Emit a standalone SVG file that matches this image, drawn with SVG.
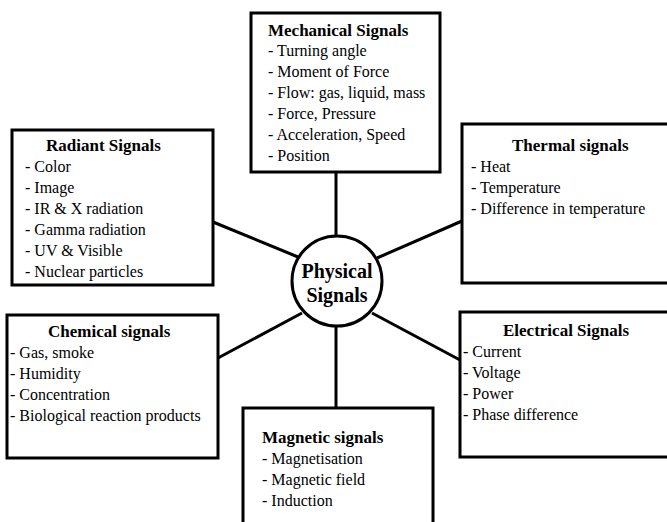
<svg xmlns="http://www.w3.org/2000/svg" width="667" height="522" viewBox="0 0 667 522">
<style>
.box{fill:#fff;stroke:#000;stroke-width:3}
.con{stroke:#000;stroke-width:3;fill:none}
text{font-family:'Liberation Serif','Times New Roman',serif;fill:#000;font-size:16px}
.t{font-weight:bold;font-size:17px}
.c{font-weight:bold;font-size:20px;text-anchor:middle}
</style>
<rect width="667" height="522" fill="#fff"/>
<g id="connectors">
<line class="con" x1="336" y1="172" x2="336" y2="236"/>
<line class="con" x1="213" y1="222" x2="298" y2="257"/>
<line class="con" x1="462" y1="221" x2="377" y2="258"/>
<line class="con" x1="218" y1="358" x2="302" y2="313"/>
<line class="con" x1="460" y1="360" x2="372" y2="313"/>
<line class="con" x1="336" y1="326" x2="336" y2="408"/>
</g>
<g id="mechanical">
<rect class="box" x="251" y="13" width="189" height="159"/>
<text class="t" x="268" y="36">Mechanical Signals</text>
<text x="268" y="56">- Turning angle</text>
<text x="268" y="77">- Moment of Force</text>
<text x="268" y="98">- Flow: gas, liquid, mass</text>
<text x="268" y="119">- Force, Pressure</text>
<text x="268" y="140">- Acceleration, Speed</text>
<text x="268" y="161">- Position</text>
</g>
<g id="radiant">
<rect class="box" x="12" y="130" width="201" height="155"/>
<text class="t" x="46" y="151">Radiant Signals</text>
<text x="25" y="172">- Color</text>
<text x="25" y="193">- Image</text>
<text x="25" y="214">- IR &amp; X radiation</text>
<text x="25" y="235">- Gamma radiation</text>
<text x="25" y="256">- UV &amp; Visible</text>
<text x="25" y="277">- Nuclear particles</text>
</g>
<g id="thermal">
<rect class="box" x="462" y="124" width="220" height="159"/>
<text class="t" x="512" y="151">Thermal signals</text>
<text x="471" y="172">- Heat</text>
<text x="471" y="193">- Temperature</text>
<text x="471" y="214">- Difference in temperature</text>
</g>
<g id="chemical">
<rect class="box" x="7" y="315" width="211" height="143"/>
<text class="t" x="48" y="337">Chemical signals</text>
<text x="10" y="358">- Gas, smoke</text>
<text x="10" y="379">- Humidity</text>
<text x="10" y="400">- Concentration</text>
<text x="10" y="421">- Biological reaction products</text>
</g>
<g id="electrical">
<rect class="box" x="460" y="312" width="222" height="145"/>
<text class="t" x="503" y="336">Electrical Signals</text>
<text x="463" y="357">- Current</text>
<text x="463" y="378">- Voltage</text>
<text x="463" y="399">- Power</text>
<text x="463" y="420">- Phase difference</text>
</g>
<g id="magnetic">
<rect class="box" x="243" y="408" width="190" height="130"/>
<text class="t" x="262" y="443">Magnetic signals</text>
<text x="262" y="464">- Magnetisation</text>
<text x="262" y="485">- Magnetic field</text>
<text x="262" y="506">- Induction</text>
</g>
<g id="physical">
<circle class="box" cx="337" cy="281" r="45"/>
<text class="c" x="337" y="278">Physical</text>
<text class="c" x="337" y="302">Signals</text>
</g>
</svg>
